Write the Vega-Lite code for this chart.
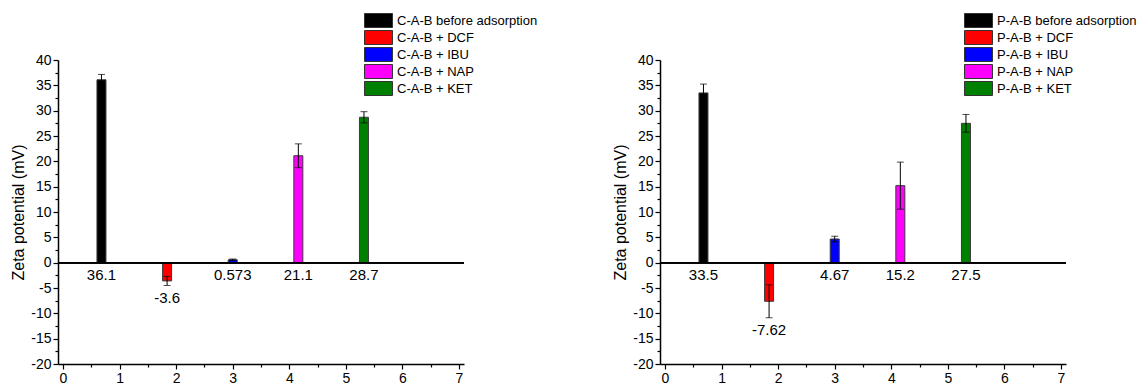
{
  "$schema": "https://vega.github.io/schema/vega-lite/v6.json",
  "background": "white",
  "padding": {"left": 10, "top": 13, "right": 0, "bottom": 0},
  "config": {
    "view": {"stroke": null},
    "font": "Liberation Sans",
    "axis": {
      "grid": false,
      "domainColor": "black",
      "domainWidth": 1.5,
      "tickColor": "black",
      "tickWidth": 1.2,
      "labelFont": "Liberation Sans",
      "labelFontSize": 14,
      "labelColor": "black",
      "labelPadding": 2,
      "labelFlush": false,
      "titleFont": "Liberation Sans",
      "titleFontSize": 16,
      "titleFontWeight": "normal",
      "titleColor": "black"
    },
    "legend": {
      "labelFont": "Liberation Sans",
      "labelFontSize": 13,
      "labelColor": "black"
    }
  },
  "bounds": "flush",
  "spacing": 196,
  "resolve": {"scale": {"color": "independent"}, "legend": {"color": "independent"}},
  "hconcat": [
    {
      "width": 406,
      "height": 304,
      "data": {"values": [
        {"sample": "C-A-B before adsorption", "pos": 0.68, "zeta": 36.1, "err": 1.05},
        {"sample": "C-A-B + DCF", "pos": 1.84, "zeta": -3.6, "err": 0.9},
        {"sample": "C-A-B + IBU", "pos": 3.0, "zeta": 0.573, "err": 0.15},
        {"sample": "C-A-B + NAP", "pos": 4.16, "zeta": 21.1, "err": 2.35},
        {"sample": "C-A-B + KET", "pos": 5.32, "zeta": 28.7, "err": 1.1}
      ]},
      "transform": [{"calculate": "min(0, datum.zeta - datum.err)", "as": "labelAt"}],
      "resolve": {"axis": {"x": "independent", "y": "independent"}},
      "layer": [
        {
          "mark": {"type": "bar", "width": 9, "stroke": "#3a3a3a", "strokeWidth": 1},
          "encoding": {
            "x": {"field": "pos", "type": "quantitative", "title": null,
                  "scale": {"domain": [0, 7], "nice": false},
                  "axis": {"orient": "bottom", "values": [0, 1, 2, 3, 4, 5, 6, 7], "labelOverlap": false,
                           "labelExpr": "'' + datum.value", "tickSize": 5}},
            "y": {"field": "zeta", "type": "quantitative", "title": "Zeta potential (mV)",
                  "scale": {"domain": [-20, 40], "nice": false},
                  "axis": {"orient": "left", "values": [-20, -15, -10, -5, 0, 5, 10, 15, 20, 25, 30, 35, 40], "labelOverlap": false,
                           "labelExpr": "'' + datum.value", "titlePadding": 4, "tickSize": 5}},
            "y2": {"datum": 0},
            "color": {"field": "sample", "type": "nominal",
                      "scale": {"domain": ["C-A-B before adsorption", "C-A-B + DCF", "C-A-B + IBU", "C-A-B + NAP", "C-A-B + KET"],
                                "range": ["#000000", "#ff0000", "#0000ff", "#ff00ff", "#008000"]},
                      "legend": {"title": null, "orient": "none", "legendX": 313, "legendY": -47, "padding": 0,
                                 "symbolType": "M-2,-1H2V1H-2Z", "symbolSize": 196,
                                 "symbolStrokeColor": "#333333", "symbolStrokeWidth": 1, "symbolOpacity": 1,
                                 "labelOffset": 11, "rowPadding": -3.75, "labelLimit": 300}}
          }
        },
        {
          "mark": {"type": "rule", "color": "black", "strokeWidth": 1.5},
          "encoding": {"y": {"datum": 0, "axis": null}}
        },
        {
          "mark": {"type": "errorbar", "ticks": true, "size": 7, "thickness": 1, "color": "black"},
          "encoding": {
            "x": {"field": "pos", "type": "quantitative", "axis": null},
            "y": {"field": "zeta", "type": "quantitative", "axis": null},
            "yError": {"field": "err"}
          }
        },
        {
          "mark": {"type": "text", "fontSize": 15, "baseline": "middle", "dy": 12.5, "color": "black"},
          "encoding": {
            "x": {"field": "pos", "type": "quantitative", "title": null,
                  "axis": {"orient": "bottom", "values": [0.5, 1.5, 2.5, 3.5, 4.5, 5.5, 6.5],
                           "labels": false, "domain": false, "tickSize": 3}},
            "y": {"field": "labelAt", "type": "quantitative", "title": null,
                  "axis": {"orient": "left", "values": [-17.5, -12.5, -7.5, -2.5, 2.5, 7.5, 12.5, 17.5, 22.5, 27.5, 32.5, 37.5],
                           "labels": false, "domain": false, "tickSize": 3}},
            "text": {"field": "zeta", "type": "nominal"}
          }
        }
      ]
    },
    {
      "width": 406,
      "height": 304,
      "data": {"values": [
        {"sample": "P-A-B before adsorption", "pos": 0.68, "zeta": 33.5, "err": 1.75},
        {"sample": "P-A-B + DCF", "pos": 1.84, "zeta": -7.62, "err": 3.25},
        {"sample": "P-A-B + IBU", "pos": 3.0, "zeta": 4.67, "err": 0.55},
        {"sample": "P-A-B + NAP", "pos": 4.16, "zeta": 15.2, "err": 4.65},
        {"sample": "P-A-B + KET", "pos": 5.32, "zeta": 27.5, "err": 1.75}
      ]},
      "transform": [{"calculate": "min(0, datum.zeta - datum.err)", "as": "labelAt"}],
      "resolve": {"axis": {"x": "independent", "y": "independent"}},
      "layer": [
        {
          "mark": {"type": "bar", "width": 9, "stroke": "#3a3a3a", "strokeWidth": 1},
          "encoding": {
            "x": {"field": "pos", "type": "quantitative", "title": null,
                  "scale": {"domain": [0, 7], "nice": false},
                  "axis": {"orient": "bottom", "values": [0, 1, 2, 3, 4, 5, 6, 7], "labelOverlap": false,
                           "labelExpr": "'' + datum.value", "tickSize": 5}},
            "y": {"field": "zeta", "type": "quantitative", "title": "Zeta potential (mV)",
                  "scale": {"domain": [-20, 40], "nice": false},
                  "axis": {"orient": "left", "values": [-20, -15, -10, -5, 0, 5, 10, 15, 20, 25, 30, 35, 40], "labelOverlap": false,
                           "labelExpr": "'' + datum.value", "titlePadding": 4, "tickSize": 5}},
            "y2": {"datum": 0},
            "color": {"field": "sample", "type": "nominal",
                      "scale": {"domain": ["P-A-B before adsorption", "P-A-B + DCF", "P-A-B + IBU", "P-A-B + NAP", "P-A-B + KET"],
                                "range": ["#000000", "#ff0000", "#0000ff", "#ff00ff", "#008000"]},
                      "legend": {"title": null, "orient": "none", "legendX": 311, "legendY": -47, "padding": 0,
                                 "symbolType": "M-2,-1H2V1H-2Z", "symbolSize": 196,
                                 "symbolStrokeColor": "#333333", "symbolStrokeWidth": 1, "symbolOpacity": 1,
                                 "labelOffset": 11, "rowPadding": -3.75, "labelLimit": 300}}
          }
        },
        {
          "mark": {"type": "rule", "color": "black", "strokeWidth": 1.5},
          "encoding": {"y": {"datum": 0, "axis": null}}
        },
        {
          "mark": {"type": "errorbar", "ticks": true, "size": 7, "thickness": 1, "color": "black"},
          "encoding": {
            "x": {"field": "pos", "type": "quantitative", "axis": null},
            "y": {"field": "zeta", "type": "quantitative", "axis": null},
            "yError": {"field": "err"}
          }
        },
        {
          "mark": {"type": "text", "fontSize": 15, "baseline": "middle", "dy": 12.5, "color": "black"},
          "encoding": {
            "x": {"field": "pos", "type": "quantitative", "title": null,
                  "axis": {"orient": "bottom", "values": [0.5, 1.5, 2.5, 3.5, 4.5, 5.5, 6.5],
                           "labels": false, "domain": false, "tickSize": 3}},
            "y": {"field": "labelAt", "type": "quantitative", "title": null,
                  "axis": {"orient": "left", "values": [-17.5, -12.5, -7.5, -2.5, 2.5, 7.5, 12.5, 17.5, 22.5, 27.5, 32.5, 37.5],
                           "labels": false, "domain": false, "tickSize": 3}},
            "text": {"field": "zeta", "type": "nominal"}
          }
        }
      ]
    }
  ]
}
